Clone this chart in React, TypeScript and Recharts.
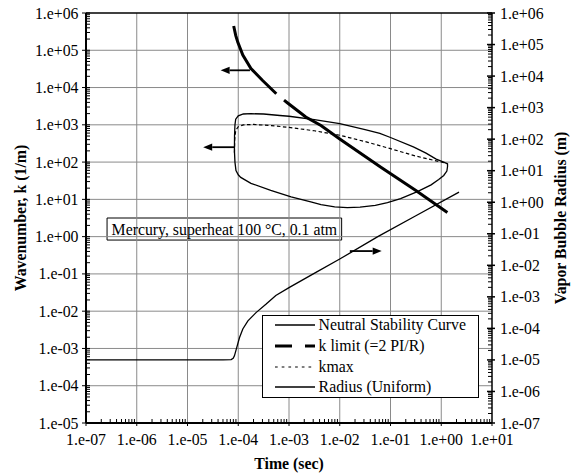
import React from 'react';
import {
  LineChart,
  Line,
  XAxis,
  YAxis,
  ReferenceLine,
  ReferenceArea,
  Legend,
} from 'recharts';

const FONT = '"Liberation Serif", "Times New Roman", Times, serif';
const FS = 15.8;

// Neutral stability curve (closed loop): time [s] and wavenumber [1/m]
const nscTime = [
  8.41e-5, 8.45e-5, 8.61e-5, 8.91e-5, 1.0e-4, 1.26e-4, 1.78e-4, 3.16e-4, 6.61e-4, 1.0e-3,
  3.16e-3, 1.0e-2, 3.16e-2, 6.17e-2, 0.1, 0.282, 0.501, 0.794, 1.12, 1.33,
  1.33, 1.29, 1.12, 0.891, 0.631, 0.339, 0.158, 0.0871, 0.0501, 0.0251,
  0.0141, 7.94e-3, 4.27e-3, 2.69e-3, 1.1e-3, 4.37e-4, 1.78e-4, 1.12e-4, 1.0e-4, 9.02e-5,
  8.61e-5, 8.41e-5,
];
const nscK = [
  200, 501, 1000, 1413, 1738, 1950, 1995, 1950, 1778, 1698,
  1380, 1072, 741, 589, 457, 257, 174, 120, 100, 89.1,
  75.9, 57.5, 43.7, 33.9, 24.5, 16.2, 10.5, 8.13, 6.92, 6.17,
  6.03, 6.31, 7.24, 8.51, 11.7, 17.4, 26.9, 38.9, 45.7, 58.9,
  100, 200,
];

// kmax
const kmaxTime = [
  8.41e-5, 8.51e-5, 8.91e-5, 1.0e-4, 1.26e-4, 2.0e-4, 4.47e-4, 1.0e-3, 3.16e-3, 1.0e-2,
  3.16e-2, 0.1, 0.316, 1.33,
];
const kmaxK = [178, 398, 708, 891, 1000, 1023, 955, 851, 692, 525, 355, 229, 145, 91.2];

// k limit (= 2 PI / R)
const kLimitTime = [
  8.13e-5, 8.91e-5, 9.77e-5, 1.23e-4, 1.78e-4, 3.02e-4, 5.75e-4, 9.12e-4, 2.14e-3, 4.27e-3,
  1.0e-2, 6.46e-2, 0.316, 1.32,
];
const kLimitK = [4.47e5, 2.51e5, 1.66e5, 7.41e4, 3.24e4, 1.55e4, 6.61e3, 3.98e3, 1.62e3, 955, 417, 72.4, 17.4, 4.47];

// Radius (uniform) [m]
const radiusTime = [
  1e-7, 5.01e-5, 7.24e-5, 7.94e-5, 8.41e-5, 9.33e-5, 1.06e-4, 1.23e-4, 1.55e-4, 2.24e-4,
  3.55e-4, 5.5e-4, 1.02e-3, 2.95e-3, 1.0e-2, 5.62e-2, 0.316, 2.24,
];
const radiusR = [
  1e-5, 1e-5, 1.02e-5, 1.12e-5, 1.35e-5, 2.45e-5, 5.13e-5, 9.55e-5, 1.74e-4, 3.16e-4,
  5.89e-4, 1.1e-3, 2.0e-3, 5.25e-3, 1.58e-2, 8.13e-2, 0.372, 2.09,
];

// Axis exponents
const xExp = [-7, -6, -5, -4, -3, -2, -1, 0, 1];
const leftExp = [-5, -4, -3, -2, -1, 0, 1, 2, 3, 4, 5, 6];
const rightExp = [-7, -6, -5, -4, -3, -2, -1, 0, 1, 2, 3, 4, 5, 6];
const minorMult = [2, 3, 4, 5, 6, 7, 8, 9];

// Annotation arrows (left axis): y level, tail time, head time
const arrowY = [2.9e4, 251, 0.41];
const arrowTail = [1.7e-4, 8.3e-5, 1.58e-2];
const arrowHead = [4.5e-5, 2.04e-5, 6.7e-2];

const noteText = 'Mercury, superheat 100 °C, 0.1 atm';
const noteX = [2.6e-7, 1.09e-2];
const noteY = [0.81, 3.16];

const legendNames = ['Neutral Stability Curve', 'k limit (=2 PI/R)', 'kmax', 'Radius (Uniform)'];
const legendWidths = [1.3, 3, 1.2, 1.3];
const legendDash = [undefined, '17 13', '2.7 4', undefined];

const dec = (e: number) => Number(`1e${e}`);
const logTicks = (exps: number[]) => {
  const out: number[] = [];
  exps.forEach((e, i) => {
    out.push(dec(e));
    if (i < exps.length - 1) minorMult.forEach((m) => out.push(Number(`${m}e${e}`)));
  });
  return out;
};
const xTicks = logTicks(xExp);
const leftTicks = logTicks(leftExp);
const rightTicks = logTicks(rightExp);
const xGrid = xExp.slice(1, -1).map(dec);
const yGrid = leftExp.slice(1, -1).map(dec);

const zip = (xs: number[], ys: number[], key: string) => xs.map((t, i) => ({ t, [key]: ys[i] }));
const nscData = zip(nscTime, nscK, 'k');
const kmaxData = zip(kmaxTime, kmaxK, 'k');
const kLimitData = zip(kLimitTime, kLimitK, 'k');
const radiusData = zip(radiusTime, radiusR, 'r');

const isMajor = (v: number) => Math.abs(Math.log10(v) - Math.round(Math.log10(v))) < 1e-9;
const fmt = (v: number) => {
  const e = Math.round(Math.log10(v));
  return `1.e${e < 0 ? '-' : '+'}${String(Math.abs(e)).padStart(2, '0')}`;
};

const txt = { fontFamily: FONT, fontSize: FS, fill: '#000' };

const BottomTick = (props: any) => {
  const { x, y, payload } = props;
  const v = payload.value;
  if (!isMajor(v)) return <line x1={x} x2={x} y1={y} y2={y - 4} stroke="#000" strokeWidth={1} />;
  return (
    <g>
      <line x1={x} x2={x} y1={y} y2={y + 3} stroke="#000" strokeWidth={1} />
      <text x={x} y={y + 16.5} textAnchor="middle" dominantBaseline="central" {...txt}>
        {fmt(v)}
      </text>
    </g>
  );
};

const LeftTick = (props: any) => {
  const { x, y, payload } = props;
  const v = payload.value;
  if (!isMajor(v)) return <line x1={x} x2={x + 4} y1={y} y2={y} stroke="#000" strokeWidth={1} />;
  return (
    <g>
      <line x1={x - 4} x2={x + 4} y1={y} y2={y} stroke="#000" strokeWidth={1} />
      <text x={x - 7.5} y={y} textAnchor="end" dominantBaseline="central" {...txt}>
        {fmt(v)}
      </text>
    </g>
  );
};

const RightTick = (props: any) => {
  const { x, y, payload } = props;
  const v = payload.value;
  if (!isMajor(v)) return <line x1={x} x2={x - 4} y1={y} y2={y} stroke="#000" strokeWidth={1} />;
  return (
    <g>
      <line x1={x - 5} x2={x + 3} y1={y} y2={y} stroke="#000" strokeWidth={1.5} />
      <text x={x + 8} y={y} textAnchor="start" dominantBaseline="central" {...txt}>
        {fmt(v)}
      </text>
    </g>
  );
};

const Arrow = (props: any) => {
  const { x1, y1, x2, y2 } = props;
  const dx = x2 - x1;
  const dy = y2 - y1;
  const len = Math.hypot(dx, dy) || 1;
  const ux = dx / len;
  const uy = dy / len;
  const hl = 9;
  const hw = 3.6;
  const bx = x2 - ux * hl;
  const by = y2 - uy * hl;
  return (
    <g>
      <line x1={x1} y1={y1} x2={bx} y2={by} stroke="#000" strokeWidth={1.8} />
      <polygon
        points={`${x2},${y2} ${bx - uy * hw},${by + ux * hw} ${bx + uy * hw},${by - ux * hw}`}
        fill="#000"
      />
    </g>
  );
};

const renderLegend = () => (
  <div
    style={{
      width: 217,
      height: 83,
      border: '1px solid #000',
      background: '#fff',
      boxSizing: 'border-box',
      position: 'relative',
      fontFamily: FONT,
      fontSize: FS,
      color: '#000',
    }}
  >
    {legendNames.map((name, i) => (
      <div
        key={name}
        style={{
          position: 'absolute',
          left: 12.3,
          top: 9.2 + i * 20.7 - 10,
          height: 20,
          display: 'flex',
          alignItems: 'center',
          whiteSpace: 'nowrap',
        }}
      >
        <svg width={40} height={8} style={{ display: 'block' }}>
          <line
            x1={0}
            x2={40}
            y1={4}
            y2={4}
            stroke="#000"
            strokeWidth={legendWidths[i]}
            strokeDasharray={legendDash[i]}
          />
        </svg>
        <span style={{ marginLeft: 3.3, lineHeight: '20px' }}>{name}</span>
      </div>
    ))}
  </div>
);

const LeftTitle = (props: any) => {
  const vb = props.viewBox || { x: 0, y: 13, width: 86, height: 410 };
  const cx = vb.x + 20;
  const cy = vb.y + vb.height / 2;
  return (
    <text x={cx} y={cy} transform={`rotate(-90 ${cx} ${cy})`} textAnchor="middle" dominantBaseline="central" {...txt} fontWeight="bold">
      Wavenumber, k (1/m)
    </text>
  );
};

const RightTitle = (props: any) => {
  const vb = props.viewBox || { x: 492, y: 13, width: 85, height: 410 };
  const cx = vb.x + 68;
  const cy = vb.y + vb.height / 2;
  return (
    <text x={cx} y={cy} transform={`rotate(-90 ${cx} ${cy})`} textAnchor="middle" dominantBaseline="central" {...txt} fontWeight="bold">
      Vapor Bubble Radius (m)
    </text>
  );
};

const BottomTitle = (props: any) => {
  const vb = props.viewBox || { x: 86, y: 423, width: 406, height: 53 };
  const cx = vb.x + vb.width / 2;
  const cy = vb.y + 40.5;
  return (
    <text x={cx} y={cy} textAnchor="middle" dominantBaseline="central" {...txt} fontWeight="bold">
      Time (sec)
    </text>
  );
};

const GRID = '#8a8a8a';

export default function App() {
  return (
    <div style={{ position: 'absolute', left: 0, top: 0, width: 577, height: 476, background: '#fff' }}>
      <LineChart width={577} height={476} margin={{ top: 13, right: 0, bottom: 0, left: 0 }}>
        <XAxis
          xAxisId="x"
          dataKey="t"
          type="number"
          scale="log"
          domain={[1e-7, 10]}
          allowDataOverflow
          ticks={xTicks}
          interval={0}
          height={53}
          tickSize={0}
          tickMargin={0}
          tickLine={false}
          tick={BottomTick}
          axisLine={{ stroke: '#000', strokeWidth: 2 }}
          label={{ content: BottomTitle }}
        />
        <YAxis
          yAxisId="left"
          orientation="left"
          type="number"
          scale="log"
          domain={[1e-5, 1e6]}
          allowDataOverflow
          ticks={leftTicks}
          interval={0}
          width={86}
          tickSize={0}
          tickMargin={0}
          tickLine={false}
          tick={LeftTick}
          axisLine={{ stroke: '#000', strokeWidth: 2 }}
          label={{ content: LeftTitle }}
        />
        <YAxis
          yAxisId="right"
          orientation="right"
          type="number"
          scale="log"
          domain={[1e-7, 1e6]}
          allowDataOverflow
          ticks={rightTicks}
          interval={0}
          width={85}
          tickSize={0}
          tickMargin={0}
          tickLine={false}
          tick={RightTick}
          axisLine={{ stroke: '#000', strokeWidth: 1.5 }}
          label={{ content: RightTitle }}
        />
        {xGrid.map((v) => (
          <ReferenceLine key={`gx-${v}`} xAxisId="x" yAxisId="left" x={v} stroke={GRID} strokeWidth={1} />
        ))}
        {yGrid.map((v) => (
          <ReferenceLine key={`gy-${v}`} xAxisId="x" yAxisId="left" y={v} stroke={GRID} strokeWidth={1} />
        ))}
        <ReferenceLine xAxisId="x" yAxisId="left" y={1e6} stroke="#000" strokeWidth={1.5} />
        <ReferenceArea
          xAxisId="x"
          yAxisId="left"
          x1={noteX[0]}
          x2={noteX[1]}
          y1={noteY[0]}
          y2={noteY[1]}
          fill="#fff"
          fillOpacity={1}
          stroke="#000"
          strokeWidth={1}
          label={{ value: noteText, position: 'center', fill: '#000', fontFamily: FONT, fontSize: FS }}
        />
        <Line
          xAxisId="x"
          yAxisId="left"
          data={nscData}
          dataKey="k"
          type="linear"
          stroke="#000"
          strokeWidth={1.3}
          dot={false}
          isAnimationActive={false}
          name="Neutral Stability Curve"
        />
        <Line
          xAxisId="x"
          yAxisId="left"
          data={kLimitData}
          dataKey="k"
          type="linear"
          stroke="#000"
          strokeWidth={3}
          strokeDasharray="82 10 5000"
          dot={false}
          isAnimationActive={false}
          name="k limit (=2 PI/R)"
        />
        <Line
          xAxisId="x"
          yAxisId="left"
          data={kmaxData}
          dataKey="k"
          type="linear"
          stroke="#000"
          strokeWidth={1.2}
          strokeDasharray="3.5 2.5"
          dot={false}
          isAnimationActive={false}
          name="kmax"
        />
        <Line
          xAxisId="x"
          yAxisId="right"
          data={radiusData}
          dataKey="r"
          type="linear"
          stroke="#000"
          strokeWidth={1.3}
          dot={false}
          isAnimationActive={false}
          name="Radius (Uniform)"
        />
        {arrowY.map((y, i) => (
          <ReferenceLine
            key={`arrow-${i}`}
            xAxisId="x"
            yAxisId="left"
            segment={[
              { x: arrowTail[i], y },
              { x: arrowHead[i], y },
            ]}
            shape={Arrow}
          />
        ))}
        <Legend
          layout="horizontal"
          verticalAlign="middle"
          align="center"
          width={217}
          height={83}
          content={renderLegend}
          wrapperStyle={{ left: 262, top: 315, width: 217, height: 83 }}
        />
      </LineChart>
    </div>
  );
}
